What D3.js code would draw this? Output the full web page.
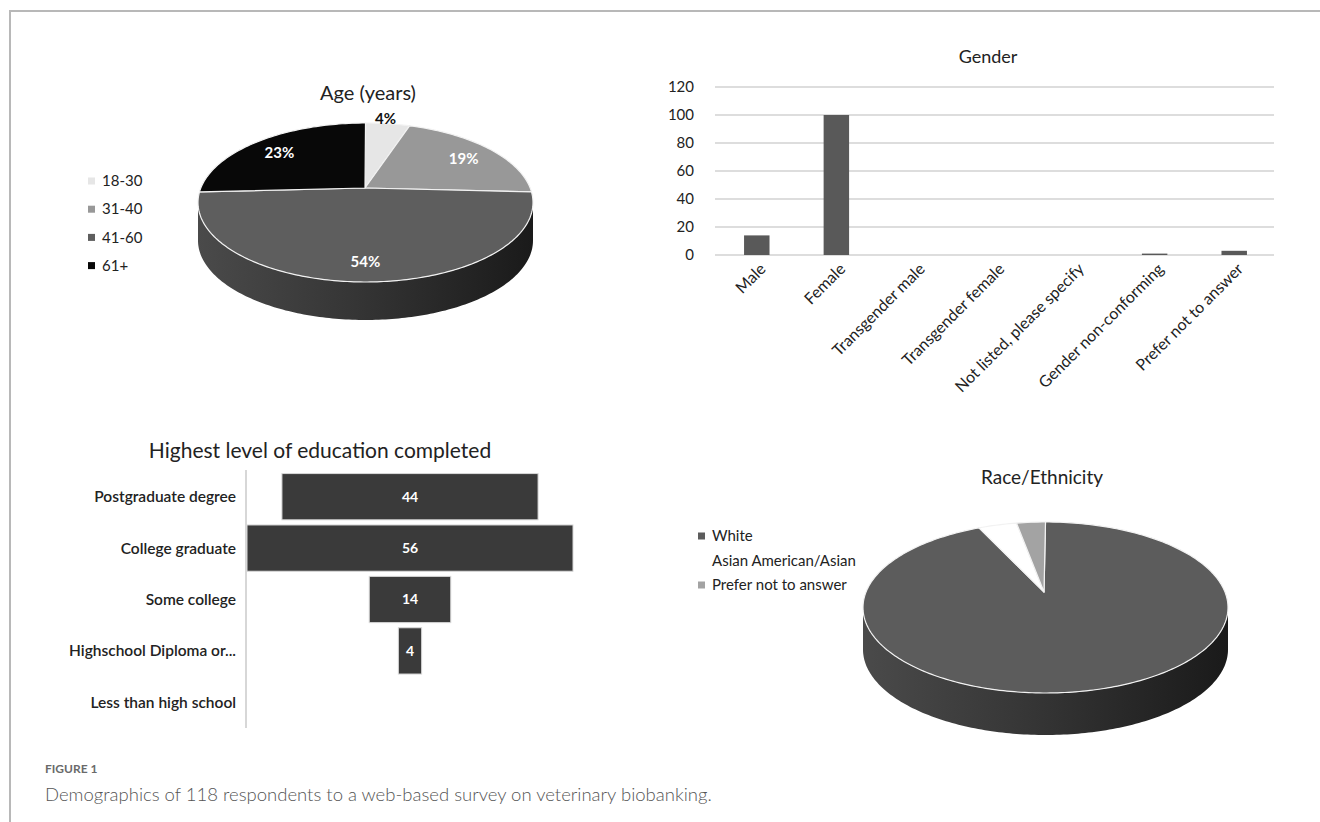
<!DOCTYPE html>
<html><head><meta charset="utf-8">
<script src="https://cdn.jsdelivr.net/npm/d3@7"></script>
<style>
html,body{margin:0;padding:0;background:#fff;}
svg{display:block;font-family:Lato, "Open Sans", sans-serif;}
</style></head>
<body>
<svg id="c" width="1320" height="822"></svg>
<script>
// ---------- DATA ----------
const ageCategories = ["18-30", "31-40", "41-60", "61+"];
const ageCounts = [5, 22, 64, 27];
const ageColors = ["#e6e6e6", "#989898", "#5e5e5e", "#080808"];

const genderCategories = ["Male", "Female", "Transgender male", "Transgender female",
  "Not listed, please specify", "Gender non-conforming", "Prefer not to answer"];
const genderCounts = [14, 100, 0, 0, 0, 1, 3];
const genderTicks = [0, 20, 40, 60, 80, 100, 120];

const eduCategories = ["Postgraduate degree", "College graduate", "Some college",
  "Highschool Diploma or...", "Less than high school"];
const eduCounts = [44, 56, 14, 4, 0];

const raceCategories = ["White", "Asian American/Asian", "Prefer not to answer"];
const raceCounts = [111, 4, 3];
const raceColors = ["#5c5c5c", "#ffffff", "#a3a3a3"];

// ---------- SETUP ----------
const svg = d3.select("#c");
const defs = svg.append("defs");
const grad = defs.append("linearGradient").attr("id", "side").attr("x1", "0%").attr("x2", "100%");
grad.append("stop").attr("offset", "0%").attr("stop-color", "#4a4a4a");
grad.append("stop").attr("offset", "45%").attr("stop-color", "#363636");
grad.append("stop").attr("offset", "100%").attr("stop-color", "#1a1a1a");

// frame
svg.append("line").attr("x1", 10).attr("x2", 1320).attr("y1", 11).attr("y2", 11)
  .attr("stroke", "#b8b8b8").attr("stroke-width", 2);
svg.append("line").attr("x1", 10).attr("x2", 10).attr("y1", 10).attr("y2", 822)
  .attr("stroke", "#b8b8b8").attr("stroke-width", 2);

// ---------- 3D PIE helper ----------
function pie3d(g, counts, colors, o) {
  const arcs = d3.pie().sort(null).value(d => d)(counts);
  const pt = (a, dy = 0) => [o.cx + o.rx * Math.sin(a), o.cy + dy - o.ry * Math.cos(a)];
  const arcPts = (a0, a1, dy = 0) => {
    const n = Math.max(2, Math.ceil((a1 - a0) / 0.02));
    return d3.range(n + 1).map(i => pt(a0 + (a1 - a0) * i / n, dy));
  };
  const line = d3.line();
  arcs.forEach((d, i) => {
    const s0 = Math.max(d.startAngle, Math.PI / 2), s1 = Math.min(d.endAngle, 3 * Math.PI / 2);
    if (s1 <= s0) return;
    const top = arcPts(s0, s1), bot = arcPts(s0, s1, o.depth).reverse();
    g.append("path").attr("d", line(top.concat(bot)) + "Z")
      .attr("fill", "url(#side)");
  });
  arcs.forEach((d, i) => {
    const pts = [[o.vx, o.vy]].concat(arcPts(d.startAngle, d.endAngle));
    g.append("path").attr("d", line(pts) + "Z")
      .attr("fill", colors[i]).attr("stroke", "#f2f2f2").attr("stroke-width", 1.2)
      .attr("stroke-linejoin", "round");
  });
  return { arcs, pt };
}

// ---------- AGE ----------
{
  const g = svg.append("g");
  g.append("text").attr("x", 368).attr("y", 100).attr("text-anchor", "middle")
    .attr("font-size", 20).attr("fill", "#222").text("Age (years)");
  const o = { cx: 365.5, cy: 202.5, rx: 167.5, ry: 79.5, vx: 365, vy: 188, depth: 38 };
  const { arcs, pt } = pie3d(g, ageCounts, ageColors, o);
  const total = d3.sum(ageCounts);
  const fmt = d3.format(".0%");
  arcs.forEach((d, i) => {
    const mid = (d.startAngle + d.endAngle) / 2;
    const share = d.value / total;
    const p = pt(mid);
    const inside = share >= 0.05;
    const k = inside ? 0.78 : 1.08;
    const x = o.vx + k * (p[0] - o.vx), y = o.vy + k * (p[1] - o.vy);
    g.append("text").attr("x", x + (inside ? 0 : -4)).attr("y", y).attr("dy", "0.35em")
      .attr("text-anchor", "middle").attr("font-size", 15).attr("font-weight", 700)
      .attr("fill", inside ? "#fff" : "#111").text(fmt(share));
  });
  const lg = g.append("g");
  ageCategories.forEach((c, i) => {
    const y = 181 + i * 28.2;
    lg.append("rect").attr("x", 88).attr("y", y - 3.5).attr("width", 7).attr("height", 7)
      .attr("fill", ageColors[i]);
    lg.append("text").attr("x", 102).attr("y", y).attr("dy", "0.35em")
      .attr("font-size", 15).attr("fill", "#222").text(c);
  });
}

// ---------- GENDER ----------
{
  const g = svg.append("g");
  const x = d3.scaleBand().domain(genderCategories).range([717, 1274])
    .paddingInner(0.68).paddingOuter(0.34);
  const y = d3.scaleLinear().domain([0, 120]).range([255, 87]);
  g.append("text").attr("x", 988).attr("y", 63).attr("text-anchor", "middle")
    .attr("font-size", 18).attr("fill", "#222").text("Gender");
  g.append("g").selectAll("line").data(genderTicks).join("line")
    .attr("x1", 715).attr("x2", 1274).attr("y1", d => y(d)).attr("y2", d => y(d))
    .attr("stroke", "#d2d2d2").attr("stroke-width", 1.6);
  const ax = d3.axisLeft(y).tickValues(genderTicks).tickSize(0).tickPadding(0);
  const ga = g.append("g").attr("transform", "translate(694,0)").call(ax);
  ga.select(".domain").remove();
  ga.selectAll("text").attr("font-size", 15).attr("fill", "#222").attr("font-family", "Lato");
  g.append("g").selectAll("rect").data(genderCounts).join("rect")
    .attr("x", (d, i) => x(genderCategories[i])).attr("width", x.bandwidth())
    .attr("y", d => y(d)).attr("height", d => y(0) - y(d))
    .attr("fill", "#595959");
  g.append("g").selectAll("text").data(genderCategories).join("text")
    .attr("transform", d => `translate(${x(d) + x.bandwidth() / 2 + 10},${270}) rotate(-45)`)
    .attr("text-anchor", "end").attr("font-size", 16).attr("fill", "#222").text(d => d);
}

// ---------- EDUCATION ----------
{
  const g = svg.append("g");
  g.append("text").attr("x", 320).attr("y", 458).attr("text-anchor", "middle")
    .attr("font-size", 21).attr("fill", "#222").text("Highest level of education completed");
  const y = d3.scaleBand().domain(eduCategories).range([471, 728]).paddingInner(0.1).paddingOuter(0.05);
  const w = d3.scaleLinear().domain([0, 56]).range([0, 326]);
  const cx = 410;
  g.append("line").attr("x1", 246).attr("x2", 246).attr("y1", 470).attr("y2", 728)
    .attr("stroke", "#bdbdbd").attr("stroke-width", 1.2);
  eduCategories.forEach((c, i) => {
    const v = eduCounts[i];
    const yc = y(c) + y.bandwidth() / 2;
    g.append("text").attr("x", 236).attr("y", yc).attr("dy", "0.35em").attr("text-anchor", "end")
      .attr("font-size", 15.5).attr("font-weight", 600).attr("fill", "#222").text(c);
    if (v > 0) {
      g.append("rect").attr("x", cx - w(v) / 2).attr("width", w(v))
        .attr("y", y(c)).attr("height", y.bandwidth())
        .attr("fill", "#3a3a3a").attr("stroke", "#d8d8d8").attr("stroke-width", 1);
      g.append("text").attr("x", cx).attr("y", yc).attr("dy", "0.35em").attr("text-anchor", "middle")
        .attr("font-size", 14).attr("font-weight", 700).attr("fill", "#fff").text(v);
    }
  });
}

// ---------- RACE ----------
{
  const g = svg.append("g");
  g.append("text").attr("x", 1042).attr("y", 484).attr("text-anchor", "middle")
    .attr("font-size", 19).attr("fill", "#222").text("Race/Ethnicity");
  const o = { cx: 1045.5, cy: 607.5, rx: 182.5, ry: 85.5, vx: 1044, vy: 592, depth: 42 };
  pie3d(g, raceCounts, raceColors, o);
  raceCategories.forEach((c, i) => {
    const y = 536 + i * 24.5;
    g.append("rect").attr("x", 698).attr("y", y - 3.5).attr("width", 7).attr("height", 7)
      .attr("fill", raceColors[i]);
    g.append("text").attr("x", 712).attr("y", y).attr("dy", "0.35em")
      .attr("font-size", 15).attr("fill", "#222").text(c);
  });
}

// ---------- CAPTION ----------
svg.append("text").attr("x", 45).attr("y", 773).attr("font-family", "Lato")
  .attr("font-size", 12).attr("font-weight", 700).attr("fill", "#6a6a6a").text("FIGURE 1");
svg.append("text").attr("x", 45).attr("y", 801).attr("font-family", "Lato")
  .attr("font-size", 18.5).attr("font-weight", 300).attr("fill", "#555")
  .text("Demographics of 118 respondents to a web-based survey on veterinary biobanking.");
</script>
</body></html>
